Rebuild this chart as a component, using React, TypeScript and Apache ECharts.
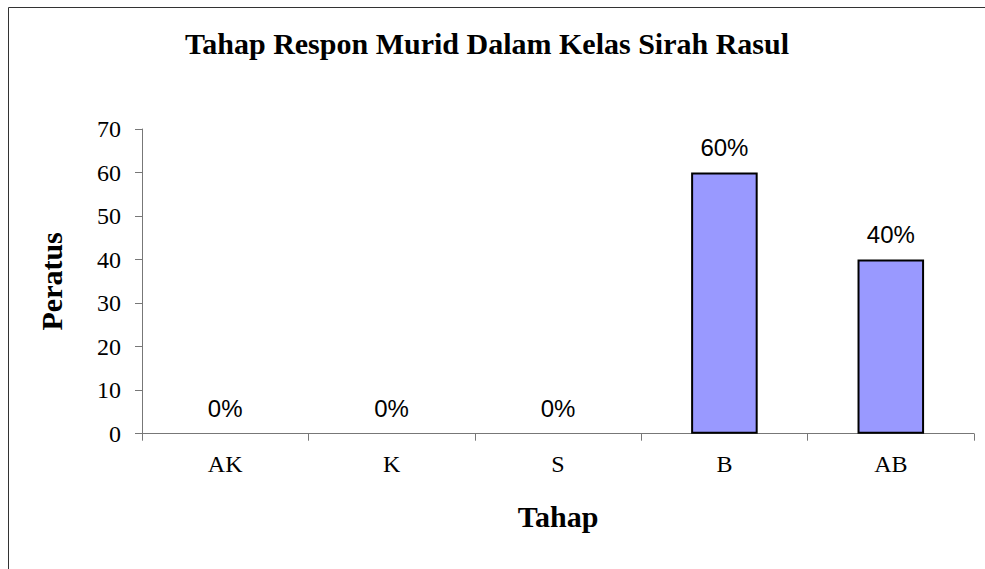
import React, { useEffect, useRef } from "react";
import * as echarts from "echarts";

const titleText = "Tahap Respon Murid Dalam Kelas Sirah Rasul";
const categories = ["AK", "K", "S", "B", "AB"];
const values = [0, 0, 0, 60, 40];
const xAxisName = "Tahap";
const yAxisName = "Peratus";

const SERIF = "'Times New Roman', 'Liberation Serif', serif";
const SANS = "Arial, 'Liberation Sans', sans-serif";

export default function App() {
  const ref = useRef<HTMLDivElement>(null);
  useEffect(() => {
    if (!ref.current) return;
    const chart = echarts.init(ref.current, null, { renderer: "svg" });
    chart.setOption({
      animation: false,
      backgroundColor: "#ffffff",
      graphic: [
        {
          type: "rect",
          shape: { x: 8.5, y: 7.5, width: 1100, height: 700 },
          style: { fill: "none", stroke: "#333", lineWidth: 1 },
          silent: true,
        },
        {
          type: "text",
          x: 487,
          y: 58,
          silent: true,
          style: {
            text: titleText,
            fontFamily: SERIF,
            fontWeight: "bold",
            fontSize: 30,
            fill: "#000",
            textAlign: "center",
            textVerticalAlign: "bottom",
          },
        },
      ],
      grid: { left: 142, right: 11, top: 129, bottom: 135.3 },
      xAxis: {
        type: "category",
        data: categories,
        name: xAxisName,
        nameLocation: "middle",
        nameGap: 68,
        nameTextStyle: {
          fontFamily: SERIF,
          fontWeight: "bold",
          fontSize: 30,
          color: "#000",
        },
        axisLine: { show: true, lineStyle: { color: "#777", width: 1 } },
        axisTick: { show: true, length: 7, lineStyle: { color: "#777" } },
        axisLabel: {
          margin: 18,
          fontFamily: SERIF,
          fontSize: 24,
          color: "#000",
        },
      },
      yAxis: {
        type: "value",
        min: 0,
        max: 70,
        interval: 10,
        name: yAxisName,
        nameLocation: "middle",
        nameGap: 76,
        nameTextStyle: {
          fontFamily: SERIF,
          fontWeight: "bold",
          fontSize: 30,
          color: "#000",
        },
        splitLine: { show: false },
        axisLine: { show: true, lineStyle: { color: "#777", width: 1 } },
        axisTick: { show: true, length: 7, lineStyle: { color: "#777" } },
        axisLabel: {
          margin: 21,
          fontFamily: SERIF,
          fontSize: 24,
          color: "#000",
        },
      },
      series: [
        {
          type: "bar",
          data: values.map((v) => ({
            value: v,
            itemStyle: { borderWidth: v === 0 ? 0 : 2 },
          })),
          barWidth: "40%",
          itemStyle: { color: "#9999FF", borderColor: "#000", borderWidth: 2 },
          label: {
            show: true,
            position: "top",
            distance: 13,
            formatter: "{c}%",
            fontFamily: SANS,
            fontSize: 24,
            color: "#000",
          },
        },
      ],
    });
    return () => chart.dispose();
  }, []);
  return (
    <div
      ref={ref}
      style={{ position: "absolute", left: 0, top: 0, width: 985, height: 569 }}
    />
  );
}
